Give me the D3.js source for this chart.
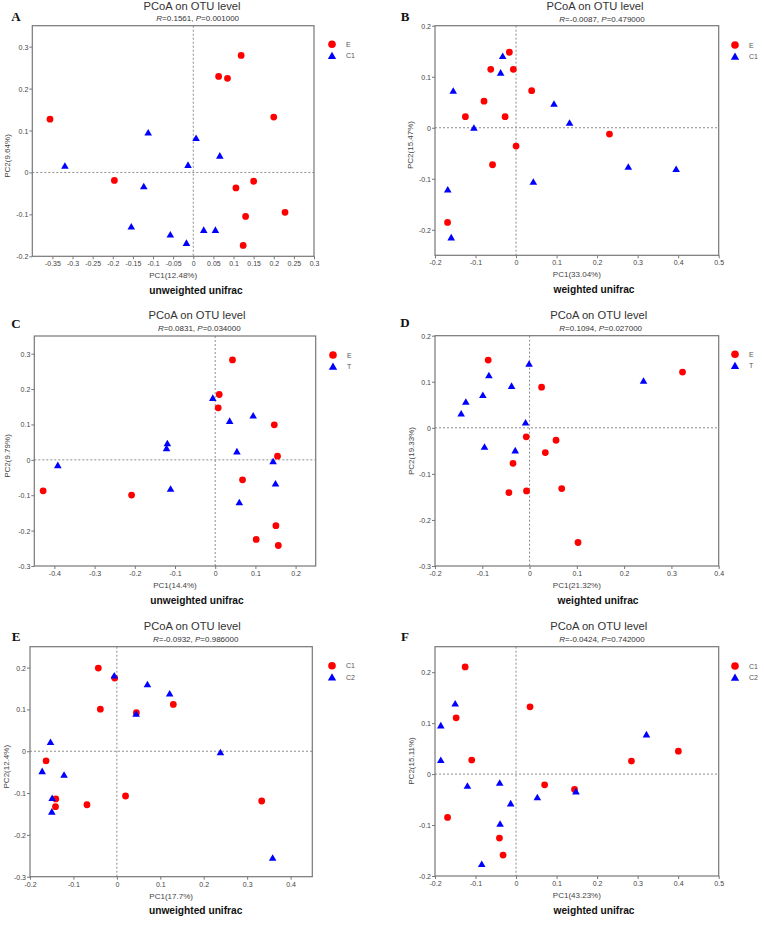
<!DOCTYPE html>
<html><head><meta charset="utf-8">
<script src="https://cdn.jsdelivr.net/npm/d3@7"></script>
<style>body{margin:0;background:#fff}svg{display:block}</style>
</head><body>
<script>
// ---------- DATA ----------
const A_E  = [[-0.356,0.127],[0.119,0.279],[0.063,0.229],[0.085,0.2245],[0.2,0.132],[-0.196,-0.019],[0.106,-0.037],[0.15,-0.021],[0.13,-0.105],[0.228,-0.095],[0.124,-0.174]];
const A_C1 = [[-0.319,0.016],[-0.112,0.095],[0.007,0.082],[-0.013,0.018],[0.066,0.04],[-0.123,-0.033],[-0.154,-0.129],[-0.057,-0.148],[0.026,-0.137],[0.055,-0.137],[-0.017,-0.168]];
const B_E  = [[-0.0165,0.148],[-0.0625,0.1145],[-0.0067,0.1145],[0.0385,0.0726],[-0.079,0.052],[-0.125,0.0216],[-0.027,0.0216],[0,-0.036],[-0.058,-0.0725],[0.2305,-0.0124],[-0.169,-0.1855]];
const B_C1 = [[-0.033,0.1406],[-0.038,0.108],[-0.155,0.0725],[-0.104,0],[0.0936,0.047],[0.132,0.0098],[0.0426,-0.106],[0.277,-0.0765],[0.395,-0.081],[-0.1685,-0.121],[-0.16,-0.215]];
const C_E  = [[0.043,0.2825],[0.01,0.1847],[0.0075,0.147],[0.147,0.099],[0.155,0.0105],[0.068,-0.0565],[-0.428,-0.0876],[-0.208,-0.0997],[0.151,-0.186],[0.102,-0.225],[0.157,-0.242]];
const C_T  = [[-0.006,0.175],[0.036,0.11],[0.0945,0.125],[-0.119,0.047],[-0.121,0.033],[0.054,0.0237],[-0.3915,-0.015],[-0.111,-0.082],[0.144,-0.004],[0.15,-0.067],[0.06,-0.12]];
const D_E  = [[-0.0875,0.147],[0.0254,0.0883],[0.3235,0.121],[-0.007,-0.0196],[0.056,-0.027],[0.0333,-0.0537],[-0.035,-0.077],[-0.0437,-0.1406],[-0.0064,-0.137],[0.068,-0.132],[0.1025,-0.249]];
const D_T  = [[-0.001,0.139],[-0.086,0.114],[-0.038,0.091],[-0.0988,0.071],[-0.1348,0.0565],[-0.1447,0.031],[-0.0085,0.0115],[-0.0953,-0.0413],[-0.0303,-0.049],[0.241,0.102]];
const E_C1 = [[-0.0427,0.199],[-0.005,0.175],[-0.038,0.1007],[0.045,0.092],[0.13,0.112],[-0.163,-0.023],[-0.1406,-0.114],[-0.1413,-0.1326],[-0.0688,-0.1279],[0.02,-0.107],[0.3335,-0.119]];
const E_C2 = [[-0.006,0.181],[0.0704,0.16],[0.1216,0.138],[0.0444,0.0896],[-0.1528,0.022],[-0.172,-0.0476],[-0.1216,-0.0564],[-0.149,-0.112],[-0.1498,-0.1445],[0.2385,-0.0024],[0.3587,-0.2548]];
const F_C1 = [[-0.1256,0.2104],[-0.1478,0.1104],[0.0345,0.132],[-0.1094,0.0275],[0.2847,0.0255],[0.4005,0.045],[0.0705,-0.021],[0.1443,-0.03],[-0.169,-0.085],[-0.041,-0.1255],[-0.032,-0.159]];
const F_C2 = [[-0.1502,0.1386],[-0.1857,0.0955],[-0.1857,0.0275],[0.3217,0.0778],[-0.12,-0.023],[-0.0404,-0.017],[0.0525,-0.0457],[0.1478,-0.034],[-0.0133,-0.0575],[-0.0394,-0.0975],[-0.0847,-0.1765]];

const A_xTicks = [-0.35,-0.3,-0.25,-0.2,-0.15,-0.1,-0.05,0,0.05,0.1,0.15,0.2,0.25,0.3];
const A_yTicks = [-0.2,-0.1,0,0.1,0.2,0.3];
const B_xTicks = [-0.2,-0.1,0,0.1,0.2,0.3,0.4,0.5];
const B_yTicks = [-0.2,-0.1,0,0.1,0.2];
const C_xTicks = [-0.4,-0.3,-0.2,-0.1,0,0.1,0.2];
const C_yTicks = [-0.3,-0.2,-0.1,0,0.1,0.2,0.3];
const D_xTicks = [-0.2,-0.1,0,0.1,0.2,0.3,0.4];
const D_yTicks = [-0.3,-0.2,-0.1,0,0.1,0.2];
const E_xTicks = [-0.2,-0.1,0,0.1,0.2,0.3,0.4];
const E_yTicks = [-0.3,-0.2,-0.1,0,0.1,0.2];
const F_xTicks = [-0.2,-0.1,0,0.1,0.2,0.3,0.4,0.5];
const F_yTicks = [-0.2,-0.1,0,0.1,0.2];

const letters   = ["A","B","C","D","E","F"];
const subtitles = [["0.1561","0.001000"],["-0.0087","0.479000"],["0.0831","0.034000"],["0.1094","0.027000"],["-0.0932","0.986000"],["-0.0424","0.742000"]];
const pc1Labels = ["PC1(12.48%)","PC1(33.04%)","PC1(14.4%)","PC1(21.32%)","PC1(17.7%)","PC1(43.23%)"];
const pc2Labels = ["PC2(9.64%)","PC2(15.47%)","PC2(9.79%)","PC2(19.33%)","PC2(12.4%)","PC2(15.11%)"];
const methods   = ["unweighted unifrac","weighted unifrac","unweighted unifrac","weighted unifrac","unweighted unifrac","weighted unifrac"];
const groupNames = [["E","C1"],["E","C1"],["E","T"],["E","T"],["C1","C2"],["C1","C2"]];
const series = [[A_E,A_C1],[B_E,B_C1],[C_E,C_T],[D_E,D_T],[E_C1,E_C2],[F_C1,F_C2]];
const xTicks = [A_xTicks,B_xTicks,C_xTicks,D_xTicks,E_xTicks,F_xTicks];
const yTicks = [A_yTicks,B_yTicks,C_yTicks,D_yTicks,E_yTicks,F_yTicks];
const xDomains = [[-0.4,0.3],[-0.2,0.5],[-0.45,0.25],[-0.2,0.4],[-0.2,0.45],[-0.2,0.5]];
const yDomains = [[-0.2,0.35],[-0.25,0.2],[-0.3,0.35],[-0.3,0.2],[-0.3,0.25],[-0.2,0.25]];

// ---------- LAYOUT ----------
const layout = [
  {l:32.3,r:314,t:25.7,b:256.3, tx:192,ty:5.7, sx:197.7,sy:17.7, lx:16,ly:16.7, yl:[7.5,156], mx:196, leg:[332,44.3,346]},
  {l:435,r:718.7,t:25.7,b:255.3, tx:595,ty:5.7, sx:602,sy:19, lx:405,ly:16, yl:[410.5,145], mx:594, leg:[735,45,749]},
  {l:34.3,r:315.7,t:336,b:566, tx:197,ty:315, sx:199.3,sy:328, lx:16,ly:323.3, yl:[7.5,456], mx:197, leg:[333,355,347]},
  {l:435,r:718.7,t:335.7,b:566, tx:598.7,ty:315, sx:600.7,sy:328, lx:405,ly:322.7, yl:[411,451], mx:598, leg:[735,354.3,749]},
  {l:30,r:312.3,t:646.7,b:876.7, tx:192.3,ty:625.7, sx:195.7,sy:638.7, lx:16,ly:636.7, yl:[6.5,766.7], mx:195.7, leg:[332,665.7,346]},
  {l:435,r:718.7,t:646.7,b:876, tx:598.7,ty:625.7, sx:602,sy:638.7, lx:405,ly:636, yl:[411,761], mx:594, leg:[735,666,749]}
];

const W = 764, H = 936;
const svg = d3.select("body").append("svg").attr("width",W).attr("height",H)
  .style("font-family","'Liberation Sans', Arial, sans-serif");

const fmt = v => { const r = Math.round(v*100)/100; return r === 0 ? "0" : String(r); };
const RED = "#ff0000", BLUE = "#0000ff";
const circleSym = d3.symbol().type(d3.symbolCircle);
const triSym = d3.symbol().type(d3.symbolTriangle);

layout.forEach((L, i) => {
  const g = svg.append("g");
  const x = d3.scaleLinear().domain(xDomains[i]).range([L.l, L.r]);
  const y = d3.scaleLinear().domain(yDomains[i]).range([L.b, L.t]);

  // zero lines
  g.append("line").attr("x1",x(0)).attr("x2",x(0)).attr("y1",L.t).attr("y2",L.b)
    .attr("stroke","#8c8c8c").attr("stroke-width",1).attr("stroke-dasharray","2,2");
  g.append("line").attr("x1",L.l).attr("x2",L.r).attr("y1",y(0)).attr("y2",y(0))
    .attr("stroke","#8c8c8c").attr("stroke-width",1).attr("stroke-dasharray","2,2");

  // axes
  const xa = g.append("g").attr("transform",`translate(0,${L.b})`)
    .call(d3.axisBottom(x).tickValues(xTicks[i]).tickSize(3).tickFormat(fmt));
  const ya = g.append("g").attr("transform",`translate(${L.l},0)`)
    .call(d3.axisLeft(y).tickValues(yTicks[i]).tickSize(3).tickFormat(fmt));
  [xa,ya].forEach(a=>{
    a.select(".domain").remove();
    a.selectAll(".tick line").attr("stroke","#777");
    a.selectAll(".tick text").attr("fill","#444").style("font-size","7px").style("font-family","'Liberation Sans', Arial, sans-serif");
  });
  xa.selectAll(".tick text").attr("dy",null).attr("y",7.5).attr("dominant-baseline","central");
  ya.selectAll(".tick text").attr("x",-4).attr("dy",null).attr("dominant-baseline","central");

  // frame
  g.append("rect").attr("x",L.l).attr("y",L.t).attr("width",L.r-L.l).attr("height",L.b-L.t)
    .attr("fill","none").attr("stroke","#777").attr("stroke-width",1.2);

  // points
  const [s1, s2] = series[i];
  g.selectAll(".c").data(s1).join("path")
    .attr("d", circleSym.size(Math.PI*3.4*3.4))
    .attr("transform", d=>`translate(${x(d[0])},${y(d[1])})`).attr("fill",RED);
  g.selectAll(".t").data(s2).join("path")
    .attr("d", triSym.size(25))
    .attr("transform", d=>`translate(${x(d[0])},${y(d[1])+0.8})`).attr("fill",BLUE);

  // titles
  g.append("text").attr("x",L.tx).attr("y",L.ty).attr("text-anchor","middle").attr("dominant-baseline","central")
    .attr("fill","#333").style("font-size","11.2px").text("PCoA on OTU level");
  const st = g.append("text").attr("x",L.sx).attr("y",L.sy).attr("text-anchor","middle").attr("dominant-baseline","central")
    .attr("fill","#333").style("font-size","8px");
  st.append("tspan").style("font-style","italic").text("R");
  st.append("tspan").text("=" + subtitles[i][0] + ", ");
  st.append("tspan").style("font-style","italic").text("P");
  st.append("tspan").text("=" + subtitles[i][1]);

  // panel letter
  g.append("text").attr("x",L.lx).attr("y",L.ly).attr("text-anchor","middle").attr("dominant-baseline","central")
    .style("font-family","'Liberation Serif', 'Times New Roman', serif").style("font-weight","bold")
    .style("font-size","13px").attr("fill","#111").text(letters[i]);

  // axis labels
  g.append("text").attr("x",(L.l+L.r)/2).attr("y",L.b+19.5).attr("text-anchor","middle").attr("dominant-baseline","central")
    .attr("fill","#444").style("font-size","8px").text(pc1Labels[i]);
  g.append("text").attr("transform",`translate(${L.yl[0]},${L.yl[1]}) rotate(-90)`).attr("text-anchor","middle")
    .attr("dominant-baseline","central").attr("fill","#444").style("font-size","8px").text(pc2Labels[i]);
  g.append("text").attr("x",L.mx).attr("y",L.b+34).attr("text-anchor","middle").attr("dominant-baseline","central")
    .attr("fill","#111").style("font-weight","bold").style("font-size","10.2px").text(methods[i]);

  // legend
  const [lx, ly, ltx] = L.leg;
  g.append("path").attr("d", circleSym.size(Math.PI*3.8*3.8)).attr("transform",`translate(${lx},${ly})`).attr("fill",RED);
  g.append("path").attr("d", triSym.size(30)).attr("transform",`translate(${lx},${ly+11.5+0.8})`).attr("fill",BLUE);
  g.append("text").attr("x",ltx).attr("y",ly).attr("dominant-baseline","central").attr("fill","#555").style("font-size","7px").text(groupNames[i][0]);
  g.append("text").attr("x",ltx).attr("y",ly+11.5).attr("dominant-baseline","central").attr("fill","#555").style("font-size","7px").text(groupNames[i][1]);
});
</script>
</body></html>
